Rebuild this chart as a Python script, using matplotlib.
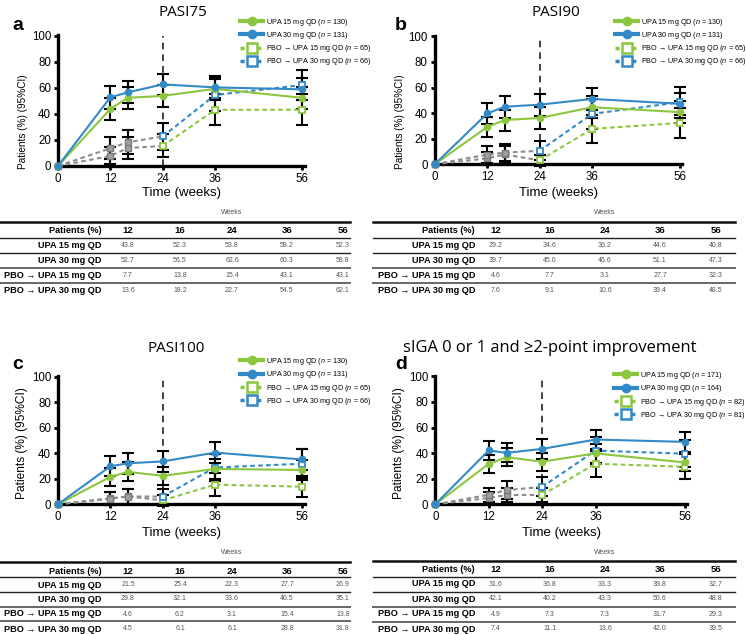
import matplotlib
matplotlib.use('Agg')
import matplotlib.pyplot as plt
from matplotlib.lines import Line2D

plt.rcParams['font.family'] = ['Liberation Sans', 'DejaVu Sans']
plt.rcParams['mathtext.fontset'] = 'custom'
plt.rcParams['mathtext.it'] = 'Liberation Sans:italic'
plt.rcParams['mathtext.rm'] = 'Liberation Sans'

W, H = 746, 635

# ---------------- data ----------------
weeks = [0, 12, 16, 24, 36, 56]
table_weeks = ['12', '16', '24', '36', '56']
xticks = [0, 12, 24, 36, 56]
yticks = [0, 20, 40, 60, 80, 100]
group_names = ['UPA 15 mg QD', 'UPA 30 mg QD', 'PBO \u2192 UPA 15 mg QD', 'PBO \u2192 UPA 30 mg QD']
panel_letters = ['a', 'b', 'c', 'd']
titles = ['PASI75', 'PASI90', 'PASI100', 'sIGA 0 or 1 and \u22652-point improvement']

n_a = [130, 131, 65, 66]
n_b = [130, 131, 65, 66]
n_c = [130, 131, 65, 66]
n_d = [171, 164, 82, 81]

# values at weeks 12, 16, 24, 36, 56 (baseline 0 at week 0)
a_upa15 = [43.8, 52.3, 53.8, 59.2, 52.3]
a_upa30 = [52.7, 56.5, 62.6, 60.3, 58.8]
a_pbo15 = [7.7, 13.8, 15.4, 43.1, 43.1]
a_pbo30 = [13.6, 18.2, 22.7, 54.5, 62.1]

b_upa15 = [29.2, 34.6, 36.2, 44.6, 40.8]
b_upa30 = [39.7, 45.0, 46.6, 51.1, 47.3]
b_pbo15 = [4.6, 7.7, 3.1, 27.7, 32.3]
b_pbo30 = [7.6, 9.1, 10.6, 39.4, 48.5]

c_upa15 = [21.5, 25.4, 22.3, 27.7, 26.9]
c_upa30 = [29.8, 32.1, 33.6, 40.5, 35.1]
c_pbo15 = [4.6, 6.2, 3.1, 15.4, 13.8]
c_pbo30 = [4.5, 6.1, 6.1, 28.8, 31.8]

d_upa15 = [31.6, 36.8, 33.3, 39.8, 32.7]
d_upa30 = [42.1, 40.2, 43.3, 50.6, 48.8]
d_pbo15 = [4.9, 7.3, 7.3, 31.7, 29.3]
d_pbo30 = [7.4, 11.1, 13.6, 42.0, 39.5]

# 95% CI half-widths
a_upa15_ci = [8.5, 8.6, 8.6, 8.5, 8.6]
a_upa30_ci = [8.6, 8.5, 8.3, 8.4, 8.4]
a_pbo15_ci = [6.5, 8.4, 8.8, 12.0, 12.0]
a_pbo30_ci = [8.3, 9.3, 10.1, 12.0, 11.7]

b_upa15_ci = [7.8, 8.2, 8.3, 8.5, 8.4]
b_upa30_ci = [8.4, 8.5, 8.5, 8.6, 8.5]
b_pbo15_ci = [5.1, 6.5, 4.2, 10.9, 11.4]
b_pbo30_ci = [6.4, 6.9, 7.4, 11.8, 12.1]

c_upa15_ci = [7.1, 7.5, 7.2, 7.7, 7.6]
c_upa30_ci = [7.8, 8.0, 8.1, 8.4, 8.2]
c_pbo15_ci = [5.1, 5.9, 4.2, 8.8, 8.4]
c_pbo30_ci = [5.0, 5.8, 5.8, 10.9, 11.2]

d_upa15_ci = [7.0, 7.2, 7.1, 7.3, 7.0]
d_upa30_ci = [7.6, 7.5, 7.6, 7.7, 7.7]
d_pbo15_ci = [4.7, 5.6, 5.6, 10.1, 9.8]
d_pbo30_ci = [5.7, 6.8, 7.5, 10.8, 10.6]

GREEN = '#8cc63f'
BLUE = '#3389c6'
GREY = '#8c8c8c'

panels = [
    dict(vals=[a_upa15, a_upa30, a_pbo15, a_pbo30], ci=[a_upa15_ci, a_upa30_ci, a_pbo15_ci, a_pbo30_ci], n=n_a),
    dict(vals=[b_upa15, b_upa30, b_pbo15, b_pbo30], ci=[b_upa15_ci, b_upa30_ci, b_pbo15_ci, b_pbo30_ci], n=n_b),
    dict(vals=[c_upa15, c_upa30, c_pbo15, c_pbo30], ci=[c_upa15_ci, c_upa30_ci, c_pbo15_ci, c_pbo30_ci], n=n_c),
    dict(vals=[d_upa15, d_upa30, d_pbo15, d_pbo30], ci=[d_upa15_ci, d_upa30_ci, d_pbo15_ci, d_pbo30_ci], n=n_d),
]

# ---------------- layout (pixels) ----------------
layout = [
    dict(ax=(58, 35, 305, 166), letter=(12, 25), title=(183, 12), title_fs=11, ylab=(23, 122), ylab_fs=7.2,
         xlab_y=193, leg=(240, 16.5), tab=dict(lab_x=102, cols=[128, 180, 232, 287, 343], weeks_y=213,
         top=222, rows=[230.5, 245.5, 260.5, 275.5, 290], lines=[238, 253, 268, 283], x0=0, x1=350)),
    dict(ax=(434.7, 35.7, 682.3, 164.3), letter=(395, 25), title=(556, 12), title_fs=11, ylab=(400, 122), ylab_fs=7.2,
         xlab_y=193, leg=(615, 16.5), tab=dict(lab_x=475, cols=[496, 550, 605, 660, 716], weeks_y=213,
         top=222, rows=[230.5, 245.5, 260.5, 275.5, 290], lines=[238, 253, 268, 283], x0=373, x1=735)),
    dict(ax=(58, 376, 305, 504.3), letter=(12, 364), title=(176, 349), title_fs=11, ylab=(23, 443), ylab_fs=8.6,
         xlab_y=533, leg=(240, 356), tab=dict(lab_x=102, cols=[128, 180, 232, 287, 343], weeks_y=552,
         top=562, rows=[571, 585, 599, 614, 629], lines=[577, 592, 607, 621], x0=0, x1=350)),
    dict(ax=(435.3, 375.7, 687.2, 504.3), letter=(395, 364), title=(550, 348), title_fs=11.9, ylab=(400, 443), ylab_fs=8.6,
         xlab_y=533, leg=(614, 370), tab=dict(lab_x=475, cols=[496, 550, 605, 660, 716], weeks_y=553,
         top=561, rows=[569, 584, 599, 614, 629], lines=[576.5, 591.5, 606.5, 621.5], x0=373, x1=735)),
]

fig = plt.figure(figsize=(W / 100, H / 100), dpi=100)


def fx(x):
    return x / W


def fy(y):
    return 1 - y / H


def hline(x0, x1, y, color='#333333', lw=1.0):
    fig.add_artist(Line2D([fx(x0), fx(x1)], [fy(y), fy(y)], color=color, lw=lw,
                          transform=fig.transFigure))


for p, L, letter, title in zip(panels, layout, panel_letters, titles):
    l, t, r, b = L['ax']
    ax = fig.add_axes([fx(l), fy(b), (r - l) / W, (b - t) / H])
    ax.set_xlim(0, 56.6)
    ax.set_ylim(0, 100.5)
    for s in ['top', 'right']:
        ax.spines[s].set_visible(False)
    for s in ['left', 'bottom']:
        ax.spines[s].set_linewidth(2.4)
    ax.set_xticks(xticks)
    ax.set_yticks(yticks)
    ax.tick_params(width=2, length=3, labelsize=8.3, pad=2)

    # dashed line at week 24
    ax.plot([24, 24], [0, 100], color='#222222', lw=1.2, dashes=(4, 3), zorder=1)

    colors = [GREEN, BLUE]
    # error bars
    for vals, ci in zip(p['vals'], p['ci']):
        ax.errorbar(weeks[1:], vals, yerr=ci, fmt='none', ecolor='black', elinewidth=1.5,
                    capsize=4.5, capthick=1.5, zorder=2, clip_on=False)
    # placebo groups: grey during placebo period, coloured after switch
    for k, col in zip([2, 3], colors):
        vals = [0] + p['vals'][k]
        ax.plot(weeks[:4], vals[:4], color=GREY, lw=1.5, dashes=(2.2, 1.6), zorder=3, clip_on=False)
        ax.plot(weeks[1:3], vals[1:3], ls='none', marker='s', ms=5, mfc='#a0a0a0', mec='#7a7a7a',
                mew=1, zorder=4)
        ax.plot(weeks[3:], vals[3:], color=col, lw=1.5, dashes=(2.2, 1.6), zorder=3)
        ax.plot(weeks[3:], vals[3:], ls='none', marker='s', ms=5, mfc='white', mec=col,
                mew=1.3, zorder=4)
        ax.plot([0], [0], ls='none', marker='s', ms=5, mfc='#a0a0a0', mec='#7a7a7a', zorder=4,
                clip_on=False)
    # UPA groups
    for k, col in zip([0, 1], colors):
        vals = [0] + p['vals'][k]
        ax.plot(weeks, vals, color=col, lw=1.5, marker='o', ms=4.5, zorder=5, clip_on=False)

    ax.set_xlabel('Time (weeks)', fontsize=9.5)
    ax.xaxis.set_label_coords(0.5, (b - (L['xlab_y'] - 6)) / (b - t))
    ax.set_ylabel('Patients (%) (95%CI)', fontsize=L['ylab_fs'])
    ax.yaxis.set_label_coords((L['ylab'][0] + 5 - l) / (r - l), (b - L['ylab'][1]) / (b - t))

    fig.text(fx(L['letter'][0]), fy(L['letter'][1]), letter, fontsize=14, fontweight='bold',
             ha='left', va='center')
    fig.text(fx(L['title'][0]), fy(L['title'][1]), title, fontsize=L['title_fs'], ha='center', va='center',
             family=['Open Sans', 'DejaVu Sans'])

    # legend
    n = p['n']
    handles = [
        Line2D([], [], color=GREEN, lw=3, marker='o', ms=6),
        Line2D([], [], color=BLUE, lw=3, marker='o', ms=6),
        Line2D([], [], color=GREEN, lw=2.5, dashes=(1.2, 1.2), marker='s', ms=6.5, mfc='white', mec=GREEN, mew=1.8),
        Line2D([], [], color=BLUE, lw=2.5, dashes=(1.2, 1.2), marker='s', ms=6.5, mfc='white', mec=BLUE, mew=1.8),
    ]
    labels = [f'{g} ($n$ = {nn})' for g, nn in zip(group_names, n)]
    fig.legend(handles, labels, loc='upper left', bbox_to_anchor=(fx(L['leg'][0]), fy(L['leg'][1])),
               bbox_transform=fig.transFigure, frameon=False, fontsize=5.2, handlelength=3.2,
               handletextpad=0.35, labelspacing=0.32, borderpad=0, borderaxespad=0, numpoints=1)

    # table
    T = L['tab']
    fig.text(fx(T['cols'][2]), fy(T['weeks_y']), 'Weeks', fontsize=5, color='#555555', ha='center', va='center')
    hline(T['x0'], T['x1'], T['top'], color='#111111', lw=1.8)
    for i, yl in enumerate(T['lines']):
        hline(T['x0'], T['x1'], yl, color='#222222' if i < 2 else '#666666', lw=1.0 if i < 2 else 1.4)
    fig.text(fx(T['lab_x']), fy(T['rows'][0]), 'Patients (%)', fontsize=6.6, fontweight='bold',
             ha='right', va='center')
    for cx, wk in zip(T['cols'], table_weeks):
        fig.text(fx(cx), fy(T['rows'][0]), wk, fontsize=6.8, fontweight='bold', ha='center', va='center')
    for g, vals, ry in zip(group_names, p['vals'], T['rows'][1:]):
        fig.text(fx(T['lab_x']), fy(ry), g, fontsize=6.6, fontweight='bold', ha='right', va='center')
        for cx, v in zip(T['cols'], vals):
            fig.text(fx(cx), fy(ry), f'{v:.1f}', fontsize=5, color='#555555', ha='center', va='center')

fig.savefig('out.png', dpi=100)
